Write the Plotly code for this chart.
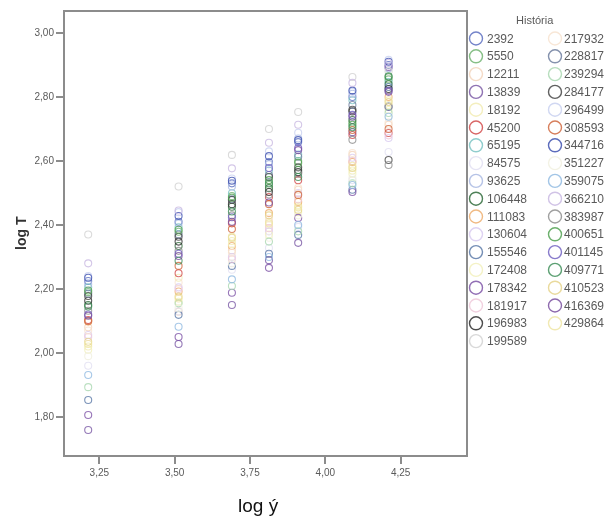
import plotly.graph_objects as go

# ---------------- data ----------------
x_levels = [3.213, 3.513, 3.69, 3.813, 3.91, 4.09, 4.21]

historia = ["2392", "5550", "12211", "13839", "18192", "45200", "65195", "84575",
            "93625", "106448", "111083", "130604", "155546", "172408", "178342",
            "181917", "196983", "199589", "217932", "228817", "239294", "284177",
            "296499", "308593", "344716", "351227", "359075", "366210", "383987",
            "400651", "401145", "409771", "410523", "416369", "429864"]

colors = ["#5b6ec0", "#72b472", "#f3d5bd", "#7b5aa6", "#f2ecb4", "#d24b4b", "#7cc4c4", "#e2e0f2",
          "#a9b9e2", "#2f6b3a", "#eeae6e", "#d9cbf0", "#5c7aa8", "#f2f0bc", "#7f55a8",
          "#efc9da", "#2e2e2e", "#d2d2d2", "#f7e3d0", "#6f7f9f", "#aad8b2", "#444444",
          "#c9d1f0", "#d0683f", "#3f52b0", "#f1f0e0", "#92bbe2", "#c9b9e2", "#8f8f8f",
          "#52a252", "#7262c2", "#3f8f5a", "#e6d48c", "#7a50a0", "#efe6a6"]

# log T values at each log y level, in the order of `historia`
t_at_1 = [2.225, 2.19, 2.08, 1.759, 2.02, 2.103, 2.205, 1.96, 2.215, 2.15, 2.098, 2.056, 1.853, 2.01,
          1.806, 2.05, 2.163, 2.37, 2.07, 2.185, 1.893, 2.178, 2.24, 2.10, 2.235, 1.99, 1.931,
          2.28, 2.132, 2.195, 2.12, 2.145, 2.035, 2.116, 2.028]
t_at_2 = [2.41, 2.379, 2.129, 2.028, 2.235, 2.249, 2.393, 2.13, 2.405, 2.334, 2.192, 2.205, 2.119, 2.16,
          2.05, 2.2, 2.348, 2.52, 2.22, 2.37, 2.155, 2.363, 2.44, 2.272, 2.428, 2.14, 2.082,
          2.445, 2.319, 2.385, 2.31, 2.288, 2.176, 2.303, 2.17]
t_at_3 = [2.53, 2.49, 2.32, 2.15, 2.35, 2.405, 2.499, 2.26, 2.52, 2.457, 2.334, 2.30, 2.272, 2.34,
          2.188, 2.293, 2.465, 2.619, 2.313, 2.48, 2.209, 2.478, 2.545, 2.387, 2.538, 2.28, 2.23,
          2.577, 2.43, 2.485, 2.424, 2.442, 2.36, 2.41, 2.363]
t_at_4 = [2.597, 2.525, 2.41, 2.29, 2.40, 2.487, 2.57, 2.328, 2.59, 2.515, 2.437, 2.38, 2.31, 2.37,
          2.266, 2.39, 2.503, 2.70, 2.42, 2.556, 2.348, 2.55, 2.63, 2.465, 2.615, 2.36, 2.30,
          2.657, 2.495, 2.54, 2.578, 2.53, 2.43, 2.47, 2.405]
t_at_5 = [2.659, 2.60, 2.51, 2.344, 2.46, 2.54, 2.62, 2.394, 2.67, 2.572, 2.472, 2.50, 2.369, 2.44,
          2.422, 2.48, 2.565, 2.753, 2.516, 2.613, 2.38, 2.58, 2.688, 2.494, 2.665, 2.43, 2.40,
          2.713, 2.56, 2.594, 2.64, 2.55, 2.447, 2.634, 2.455]
t_at_6 = [2.80, 2.72, 2.619, 2.69, 2.57, 2.681, 2.79, 2.54, 2.81, 2.728, 2.597, 2.61, 2.51, 2.56,
          2.503, 2.60, 2.755, 2.8625, 2.625, 2.775, 2.53, 2.76, 2.816, 2.697, 2.82, 2.547, 2.525,
          2.844, 2.666, 2.713, 2.744, 2.705, 2.578, 2.738, 2.585]
t_at_7 = [2.90, 2.855, 2.713, 2.769, 2.775, 2.6875, 2.847, 2.628, 2.89, 2.84, 2.80, 2.672, 2.831, 2.76,
          2.894, 2.68, 2.825, 2.88, 2.72, 2.77, 2.75, 2.603, 2.916, 2.70, 2.91, 2.74, 2.738,
          2.906, 2.5875, 2.8625, 2.82, 2.865, 2.784, 2.816, 2.79]

x_ticks = [3.25, 3.50, 3.75, 4.00, 4.25]
y_ticks = [1.80, 2.00, 2.20, 2.40, 2.60, 2.80, 3.00]

legend_title = "História"
x_title = "log ý"
y_title = "log T"

# ---------------- figure ----------------
W, H = 605, 517
ML, MR, MT, MB = 65, 0, 12, 62
plot_right_px = 466
pw = W - ML - MR
split = (plot_right_px - ML) / pw

columns = [t_at_1, t_at_2, t_at_3, t_at_4, t_at_5, t_at_6, t_at_7]

fig = go.Figure()
for i, name in enumerate(historia):
    fig.add_trace(go.Scatter(
        x=x_levels, y=[col[i] for col in columns], mode="markers", name=name,
        showlegend=False, xaxis="x", yaxis="y", opacity=0.8,
        marker=dict(symbol="circle-open", size=7, color=colors[i], line=dict(width=1.1)),
        hoverinfo="x+y+name"))

# manual two-column legend (pixel space axes on the right)
n1 = 18
row0, row_gap = 38.5, 17.8
col_mx = [476, 555]
col_tx = [485, 562]
lx, ly, lc = [], [], []
annotations = []
for i, name in enumerate(historia):
    c = 0 if i < n1 else 1
    r = i if i < n1 else i - n1
    yy = row0 + r * row_gap
    lx.append(col_mx[c]); ly.append(yy); lc.append(colors[i])
    annotations.append(dict(x=col_tx[c], y=yy, xref="x2", yref="y2", text=name,
                            showarrow=False, xanchor="left", yanchor="middle",
                            font=dict(family="Liberation Sans, Arial", size=12, color="#5a5a5a")))
fig.add_trace(go.Scatter(x=lx, y=ly, mode="markers", xaxis="x2", yaxis="y2", showlegend=False,
                         hoverinfo="skip", opacity=0.85,
                         marker=dict(symbol="circle-open", size=13, color=lc, line=dict(width=1.4))))
annotations.append(dict(x=535, y=20, xref="x2", yref="y2", text=legend_title, showarrow=False,
                        xanchor="center", yanchor="middle",
                        font=dict(family="Liberation Sans, Arial", size=11, color="#5a5a5a")))

# axis titles
annotations.append(dict(x=(258 - ML) / pw, y=(455 - 505) / (H - MT - MB), xref="paper", yref="paper",
                        text=x_title, showarrow=False, xanchor="center", yanchor="middle",
                        font=dict(family="Liberation Sans, Arial", size=19, color="#111111")))
annotations.append(dict(x=(21 - ML) / pw, y=(455 - 233) / (H - MT - MB), xref="paper", yref="paper",
                        text="<b>" + y_title + "</b>", showarrow=False, textangle=-90,
                        xanchor="center", yanchor="middle",
                        font=dict(family="Liberation Sans, Arial", size=14, color="#333333")))

axis_common = dict(showgrid=False, zeroline=False, showline=True, mirror=True,
                   linecolor="#8c8c8c", linewidth=2, ticks="outside", ticklen=7,
                   tickwidth=1.5, tickcolor="#8c8c8c", tickformat=".2f",
                   tickfont=dict(family="Liberation Sans, Arial", size=10, color="#5a5a5a"))

fig.update_layout(
    width=W, height=H, margin=dict(l=ML, r=MR, t=MT, b=MB),
    paper_bgcolor="white", plot_bgcolor="white", separators=", ",
    showlegend=False,
    xaxis=dict(domain=[0, split], range=[3.136, 4.467], tickvals=x_ticks, **axis_common),
    yaxis=dict(domain=[0, 1], range=[1.681, 3.0656], tickvals=y_ticks, **axis_common),
    xaxis2=dict(domain=[split, 1], range=[plot_right_px, W], visible=False, anchor="y2"),
    yaxis2=dict(domain=[0, 1], range=[H - MB, MT], visible=False, anchor="x2"),
    annotations=annotations,
)

fig.write_html("out.html")
